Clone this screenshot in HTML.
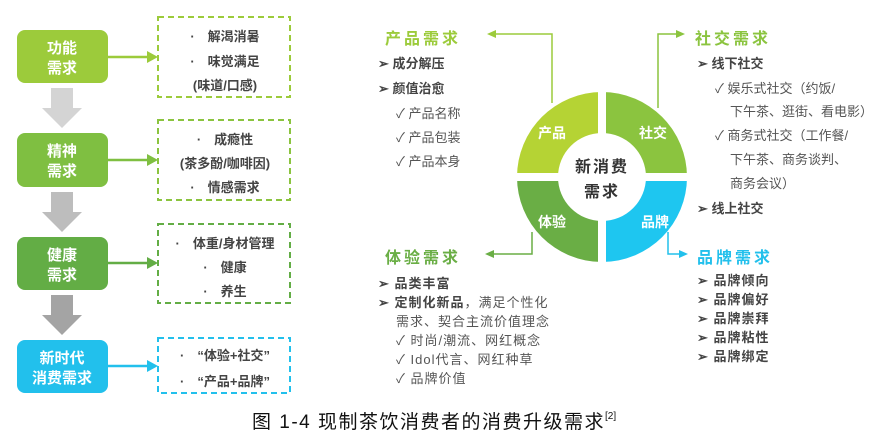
<!DOCTYPE html>
<html><head><meta charset="utf-8"><style>
html,body{margin:0;padding:0;background:#fff;}
svg{display:block;font-family:"Liberation Sans","Noto Sans CJK SC",sans-serif;}
.b{font-weight:bold;fill:#444;font-size:13px;}
.n{fill:#555;font-size:13px;}
.w{fill:#fff;font-weight:bold;font-size:15px;}
</style></head><body>
<svg width="879" height="441" viewBox="0 0 879 441" xmlns="http://www.w3.org/2000/svg">
<!-- left boxes -->
<rect x="17" y="30" width="91" height="53" rx="8" fill="#9ccb3b"/>
<text class="w" x="62" y="53" text-anchor="middle">功能</text><text class="w" x="62" y="73" text-anchor="middle">需求</text>
<rect x="17" y="133" width="91" height="54" rx="8" fill="#7fbf41"/>
<text class="w" x="62" y="156" text-anchor="middle">精神</text><text class="w" x="62" y="176" text-anchor="middle">需求</text>
<rect x="17" y="237" width="91" height="53" rx="8" fill="#63ad45"/>
<text class="w" x="62" y="260" text-anchor="middle">健康</text><text class="w" x="62" y="280" text-anchor="middle">需求</text>
<rect x="17" y="340" width="91" height="53" rx="8" fill="#22c0ec"/>
<text class="w" x="62" y="363" text-anchor="middle">新时代</text><text class="w" x="62" y="383" text-anchor="middle">消费需求</text>
<!-- gray arrows -->
<path d="M51,88 H73 V108 H82 L62,128 L42,108 H51 Z" fill="#d4d4d4"/>
<path d="M51,192 H73 V212 H82 L62,232 L42,212 H51 Z" fill="#bdbdbd"/>
<path d="M51,295 H73 V315 H82 L62,335 L42,315 H51 Z" fill="#a4a4a4"/>
<!-- horizontal connectors -->
<line x1="108" y1="57" x2="150" y2="57" stroke="#9ccb3b" stroke-width="2.5"/><path d="M147,51 L158,57 L147,63Z" fill="#9ccb3b"/>
<line x1="108" y1="160" x2="150" y2="160" stroke="#7fbf41" stroke-width="2.5"/><path d="M147,154 L158,160 L147,166Z" fill="#7fbf41"/>
<line x1="108" y1="263" x2="150" y2="263" stroke="#63ad45" stroke-width="2.5"/><path d="M147,257 L158,263 L147,269Z" fill="#63ad45"/>
<line x1="108" y1="366" x2="150" y2="366" stroke="#22c0ec" stroke-width="2.5"/><path d="M147,360 L158,366 L147,372Z" fill="#22c0ec"/>
<!-- dashed boxes -->
<rect x="158" y="17" width="132" height="80" fill="none" stroke="#9ccb3b" stroke-width="2" stroke-dasharray="6,4"/>
<rect x="158" y="120" width="132" height="80" fill="none" stroke="#8bc43f" stroke-width="2" stroke-dasharray="6,4"/>
<rect x="158" y="224" width="132" height="79" fill="none" stroke="#63ad45" stroke-width="2" stroke-dasharray="6,4"/>
<rect x="158" y="338" width="132" height="55" fill="none" stroke="#22c0ec" stroke-width="2" stroke-dasharray="6,4"/>
<g class="b" text-anchor="middle">
<text x="225" y="41">·　解渴消暑</text>
<text x="225" y="66">·　味觉满足</text>
<text x="225" y="90">(味道/口感)</text>
<text x="225" y="144">·　成瘾性</text>
<text x="225" y="168">(茶多酚/咖啡因)</text>
<text x="225" y="192">·　情感需求</text>
<text x="225" y="248">·　体重/身材管理</text>
<text x="225" y="272">·　健康</text>
<text x="225" y="296">·　养生</text>
<text x="225" y="360">·　“体验+社交”</text>
<text x="225" y="386">·　“产品+品牌”</text>
</g>
<!-- ring -->
<path d="M517,177 A85,85 0 0 1 602,92 L602,133 A44,44 0 0 0 558,177 Z" fill="#b5d334"/>
<path d="M602,92 A85,85 0 0 1 687,177 L646,177 A44,44 0 0 0 602,133 Z" fill="#8bc43f"/>
<path d="M517,177 A85,85 0 0 0 602,262 L602,221 A44,44 0 0 1 558,177 Z" fill="#6aae45"/>
<path d="M687,177 A85,85 0 0 1 602,262 L602,221 A44,44 0 0 0 646,177 Z" fill="#1ec6f0"/>
<rect x="598" y="88" width="8" height="180" fill="#fff"/>
<rect x="512" y="173" width="180" height="8" fill="#fff"/>
<g class="w" text-anchor="middle">
<text x="552" y="138" font-size="14">产品</text><text x="653" y="138" font-size="14">社交</text>
<text x="552" y="227" font-size="14">体验</text><text x="655" y="227" font-size="14">品牌</text>
</g>
<text x="602" y="172" text-anchor="middle" font-weight="bold" font-size="16" fill="#333" letter-spacing="2">新消费</text>
<text x="602" y="197" text-anchor="middle" font-weight="bold" font-size="16" fill="#333" letter-spacing="2">需求</text>
<!-- connectors -->
<polyline points="552,103 552,34 494,34" fill="none" stroke="#9ccb3b" stroke-width="1.5"/><path d="M496,30 L487,34 L496,38Z" fill="#9ccb3b"/>
<polyline points="658,108 658,34 678,34" fill="none" stroke="#8bc43f" stroke-width="1.5"/><path d="M676,30 L685,34 L676,38Z" fill="#8bc43f"/>
<polyline points="532,232 532,254 492,254" fill="none" stroke="#6aae45" stroke-width="1.5"/><path d="M494,250 L485,254 L494,258Z" fill="#6aae45"/>
<polyline points="668,232 668,254 681,254" fill="none" stroke="#22c0ec" stroke-width="1.5"/><path d="M679,250 L688,254 L679,258Z" fill="#22c0ec"/>
<!-- titles -->
<g font-weight="bold" font-size="16" letter-spacing="3">
<text x="385" y="44" fill="#9ccb3b">产品需求</text>
<text x="695" y="44" fill="#8bc43f">社交需求</text>
<text x="385" y="263" fill="#6aae45">体验需求</text>
<text x="697" y="263" fill="#22c0ec">品牌需求</text>
</g>
<!-- product list -->
<text class="b" x="378" y="68">➢ 成分解压</text>
<text class="b" x="378" y="93">➢ 颜值治愈</text>
<text class="n" x="396" y="118">✓ 产品名称</text>
<text class="n" x="396" y="142">✓ 产品包装</text>
<text class="n" x="396" y="166">✓ 产品本身</text>
<!-- social list -->
<text class="b" x="697" y="68">➢ 线下社交</text>
<text class="n" x="715" y="93">✓ 娱乐式社交（约饭/</text>
<text class="n" x="730" y="116">下午茶、逛街、看电影）</text>
<text class="n" x="715" y="140">✓ 商务式社交（工作餐/</text>
<text class="n" x="730" y="164">下午茶、商务谈判、</text>
<text class="n" x="730" y="188">商务会议）</text>
<text class="b" x="697" y="213">➢ 线上社交</text>
<!-- experience list -->
<text class="b" x="378" y="288" letter-spacing="1">➢ 品类丰富</text>
<text x="378" y="307" font-size="13" letter-spacing="1"><tspan class="b">➢ 定制化新品</tspan><tspan class="n">，满足个性化</tspan></text>
<text class="n" x="396" y="326" letter-spacing="1">需求、契合主流价值理念</text>
<text class="n" x="396" y="345" letter-spacing="1">✓ 时尚/潮流、网红概念</text>
<text class="n" x="396" y="364" letter-spacing="1">✓ Idol代言、网红种草</text>
<text class="n" x="396" y="383" letter-spacing="1">✓ 品牌价值</text>
<!-- brand list -->
<g class="b" letter-spacing="1">
<text x="697" y="285">➢ 品牌倾向</text>
<text x="697" y="304">➢ 品牌偏好</text>
<text x="697" y="323">➢ 品牌崇拜</text>
<text x="697" y="342">➢ 品牌粘性</text>
<text x="697" y="361">➢ 品牌绑定</text>
</g>
<!-- caption -->
<text x="252" y="428" font-size="19" fill="#111" letter-spacing="1.5">图 1-4  现制茶饮消费者的消费升级需求<tspan font-size="10" dy="-9" letter-spacing="0">[2]</tspan></text>
</svg>
</body></html>
